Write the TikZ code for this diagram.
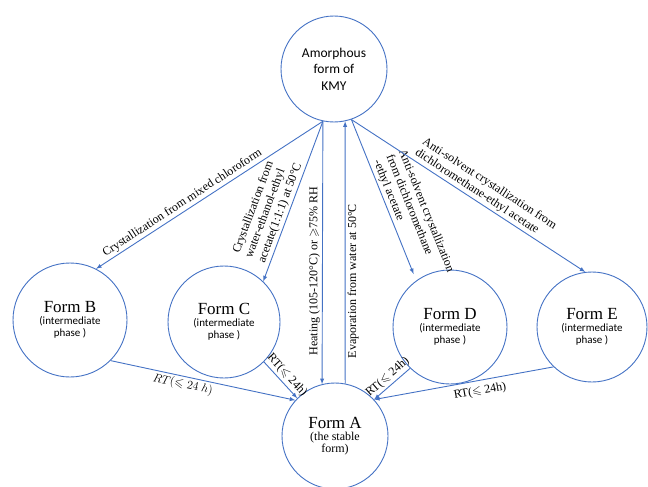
\documentclass[tikz,border=0pt]{standalone}
\usepackage{amssymb}
\usepackage{fontspec}
\setmainfont{Liberation Serif}
\newfontfamily\calibri{Carlito}
\definecolor{lineblue}{RGB}{68,114,196}
\tikzset{>=latex}
\tikzset{
  phase/.style = {circle, draw=lineblue, line width=0.9pt, inner sep=0pt, align=center},
  route/.style = {->, draw=lineblue, line width=0.9pt},
  cond/.style = {text=black, font=\fontsize{12}{13.5}\selectfont, inner sep=2pt}
}
\newcommand{\formname}[1]{{\rmfamily\fontsize{17}{18}\selectfont #1}}
\newcommand{\phasenote}[1]{{\calibri\fontsize{11}{14}\selectfont #1}}
\newcommand{\stablenote}[1]{{\rmfamily\fontsize{12}{14}\selectfont #1}}

\begin{document}
\begin{tikzpicture}[x=1pt,y=-1pt]
  \useasboundingbox (0,0) rectangle (648,487);
  % 
  \node[phase, minimum size=106pt, font=\calibri\fontsize{13.5}{16.5}\selectfont] (amorph) at (334,69) {Amorphous\\form of\\KMY};
  \node[phase, minimum size=114pt] (formB) at (70,320) {\formname{Form B}\\\phasenote{(intermediate}\\\phasenote{phase )}};
  \node[phase, minimum size=112pt] (formC) at (224,322) {\formname{Form C}\\\phasenote{(intermediate}\\\phasenote{phase )}};
  \node[phase, minimum size=114pt] (formD) at (450,327) {\formname{Form D}\\\phasenote{(intermediate}\\\phasenote{phase )}};
  \node[phase, minimum size=110pt] (formE) at (592,327) {\formname{Form E}\\\phasenote{(intermediate}\\\phasenote{phase )}};
  \node[phase, minimum size=106pt] (formA) at (335,436) {\formname{Form A}\\\stablenote{(the stable}\\\stablenote{form)}};
  % from the amorphous form
  \draw[route] (amorph.-102) -- node[cond, sloped, above, pos=0.6] {Crystallization from mixed chloroform} (formB.63);
  \draw[route] (amorph.-102) -- node[cond, sloped, above, pos=0.59, align=left] {Crystallization from\\water-ethanol-ethyl\\acetate(1:1:1) at 50°C} (formC.46);
  \draw[route] (amorph.-102) -- node[cond, rotate=90, anchor=south, pos=0.57] {Heating (105-120°C) or $\geqslant$75\% RH} (formA.104);
  \draw[route] (formA.79) -- node[cond, rotate=90, anchor=north, pos=0.39] {Evaporation from water at 50°C} (amorph.-78);
  \draw[route, shorten >=7pt] (amorph.-71) -- node[cond, sloped, above, pos=0.65, align=left] {Anti-solvent crystallization\\from dichloromethane\\-ethyl acetate} (formD.126);
  \draw[route] (amorph.-71) -- node[cond, sloped, above, pos=0.54, align=left] {Anti-solvent crystallization from\\dichloromethane-ethyl acetate} (formE.97);
  % to form A
  \draw[route] (formB.-45) -- node[cond, sloped, below, pos=0.4] {$RT(\leqslant 24\ h)$} (formA.138);
  \draw[route] (formC.-45) -- node[cond, sloped, above, pos=0.52] {RT($\leqslant$ 24h)} (formA.135);
  \draw[route] (formD.-134) -- node[cond, sloped, above, pos=0.48] {RT($\leqslant$ 24h)} (formA.43);
  \draw[route] (formE.-134) -- node[cond, sloped, below=3pt, pos=0.42] {RT($\leqslant$ 24h)} (formA.43);
\end{tikzpicture}
\end{document}
